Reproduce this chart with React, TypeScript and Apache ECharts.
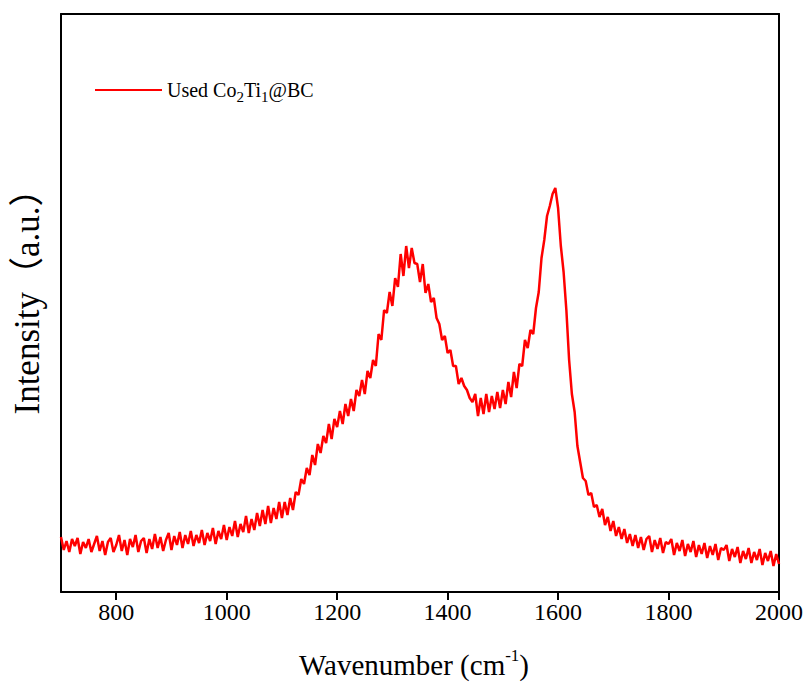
import React, { useEffect, useRef } from "react";
import * as echarts from "echarts";

// Raman spectrum (arbitrary units)
const waveStart = 700;
const waveStep = 5;
const intensity: number[] = [
  55, 42, 51, 40, 53, 46, 54, 38, 50, 44, // 700-745
  53, 40, 48, 56, 41, 51, 37, 50, 54, 40, // 750-795
  47, 57, 41, 52, 37, 53, 45, 57, 40, 51, // 800-845
  54, 39, 53, 43, 58, 44, 55, 41, 52, 59, // 850-895
  42, 56, 47, 60, 44, 57, 48, 61, 46, 57, // 900-945
  49, 62, 47, 59, 51, 64, 48, 61, 53, 67, // 950-995
  52, 65, 56, 71, 55, 68, 60, 76, 59, 73, // 1000-1045
  62, 79, 66, 82, 68, 86, 69, 84, 73, 90, // 1050-1095
  74, 90, 77, 94, 82, 100, 97, 113, 108, 124, // 1100-1145
  117, 137, 127, 148, 139, 156, 149, 168, 153, 173, // 1150-1195
  165, 181, 168, 188, 176, 193, 181, 202, 196, 212, // 1200-1245
  198, 221, 214, 232, 226, 258, 252, 282, 279, 300, // 1250-1295
  286, 314, 305, 338, 316, 346, 324, 344, 329, 328, // 1300-1345
  310, 328, 299, 308, 290, 294, 274, 268, 252, 256, // 1350-1395
  239, 242, 226, 226, 208, 214, 206, 202, 194, 190, // 1400-1445
  198, 176, 194, 178, 198, 180, 196, 183, 200, 184, // 1450-1495
  202, 188, 210, 195, 220, 204, 228, 226, 252, 244, // 1500-1545
  262, 258, 284, 300, 334, 352, 376, 386, 398, 404, // 1550-1595
  384, 346, 320, 282, 232, 198, 180, 146, 130, 114, // 1600-1645
  111, 97, 99, 85, 87, 75, 83, 67, 75, 61, // 1650-1695
  71, 56, 65, 53, 63, 49, 58, 46, 57, 44, // 1700-1745
  55, 42, 53, 56, 40, 52, 43, 54, 39, 50, // 1750-1795
  48, 53, 37, 49, 41, 52, 36, 48, 40, 51, // 1800-1845
  35, 47, 38, 49, 34, 46, 37, 48, 32, 44, // 1850-1895
  42, 47, 31, 43, 35, 45, 29, 41, 33, 44, // 1900-1945
  29, 40, 32, 43, 27, 39, 31, 41, 26, 38, // 1950-1995
  28, // 2000
];
const tickLabels: number[] = [800, 1000, 1200, 1400, 1600, 1800, 2000];
const seriesName = "Used Co2Ti1@BC";

const FONT = "'Times New Roman', 'Liberation Serif', 'Noto Sans CJK SC', serif";

export default function App() {
  const ref = useRef<HTMLDivElement>(null);
  useEffect(() => {
    if (!ref.current) return;
    const chart = echarts.init(ref.current, undefined, { renderer: "svg" });
    const data = intensity.map((v, i) => [waveStart + i * waveStep, v]);
    chart.setOption({
      animation: false,
      backgroundColor: "#ffffff",
      grid: { left: 61, right: 29, top: 14, bottom: 99, containLabel: false, outerBoundsMode: "none" },
      legend: {
        left: 90,
        top: 70,
        icon: "rect",
        itemWidth: 67,
        itemHeight: 2,
        itemGap: 5,
        data: [seriesName],
        itemStyle: { color: "#ff0000" },
        formatter: () => "Used Co{sub|2}Ti{sub|1}@BC",
        textStyle: {
          fontFamily: FONT,
          fontSize: 20,
          color: "#000",
          lineHeight: 30,
          rich: {
            sub: { fontFamily: FONT, fontSize: 15, lineHeight: 16, verticalAlign: "bottom", color: "#000" },
          },
        },
      },
      xAxis: [
        {
          type: "value",
          min: 700,
          max: 2000,
          position: "bottom",
          name: "Wavenumber (cm{sup|-1})",
          nameLocation: "middle",
          nameGap: 55,
          nameTextStyle: {
            fontFamily: FONT,
            fontSize: 29,
            color: "#000",
            lineHeight: 36,
            padding: [0, 12, 0, 0],
            rich: {
              sup: { fontFamily: FONT, fontSize: 17, lineHeight: 14, verticalAlign: "top", color: "#000" },
            },
          },
          axisLine: { show: true, onZero: false, lineStyle: { color: "#000", width: 2 } },
          axisTick: { show: true, inside: false, length: 8, customValues: tickLabels, lineStyle: { color: "#000", width: 2 } },
          axisLabel: {
            customValues: tickLabels,
            margin: 8,
            fontFamily: FONT,
            fontSize: 24,
            color: "#000",
            formatter: (v: number) => String(v),
          },
          splitLine: { show: false },
        },
        {
          type: "value",
          min: 700,
          max: 2000,
          position: "top",
          axisLine: { show: true, onZero: false, lineStyle: { color: "#000", width: 2 } },
          axisTick: { show: false },
          axisLabel: { show: false },
          splitLine: { show: false },
        },
      ],
      yAxis: [
        {
          type: "value",
          min: 0,
          max: 578,
          position: "left",
          name: "Intensity（a.u.）",
          nameLocation: "middle",
          nameRotate: 90,
          nameGap: 16,
          nameTextStyle: { fontFamily: FONT, fontSize: 35, color: "#000", padding: [0, 0, 0, 20] },
          axisLine: { show: true, onZero: false, lineStyle: { color: "#000", width: 2 } },
          axisTick: { show: false },
          axisLabel: { show: false },
          splitLine: { show: false },
        },
        {
          type: "value",
          min: 0,
          max: 578,
          position: "right",
          axisLine: { show: true, onZero: false, lineStyle: { color: "#000", width: 2 } },
          axisTick: { show: false },
          axisLabel: { show: false },
          splitLine: { show: false },
        },
      ],
      series: [
        {
          name: seriesName,
          type: "line",
          data,
          symbol: "none",
          showSymbol: false,
          clip: true,
          lineStyle: { color: "#ff0000", width: 2.5 },
          itemStyle: { color: "#ff0000" },
        },
      ],
    });
    return () => chart.dispose();
  }, []);
  return (
    <div
      ref={ref}
      style={{ position: "fixed", left: 0, top: 0, width: 808, height: 691, background: "#fff" }}
    />
  );
}
